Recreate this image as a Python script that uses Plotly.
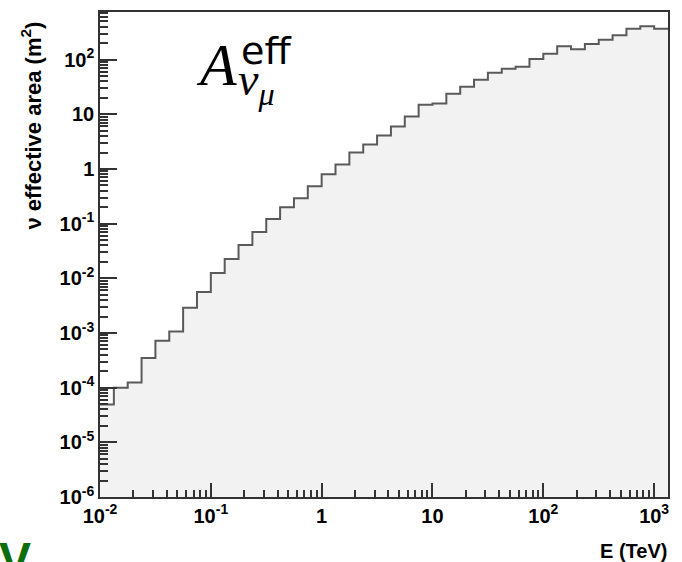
import numpy as np
import plotly.graph_objects as go

# Binning: 8 log-spaced bins per decade, 10^-2 .. 10^3.125 TeV
log_lo, log_hi, n_bins = -2.0, 3.125, 41
edges = np.logspace(log_lo, log_hi, n_bins + 1)

# Muon-neutrino effective area per bin (m^2)
area = [
    4.9e-5, 1.0e-4, 1.24e-4, 3.5e-4, 7.2e-4, 1.06e-3, 2.9e-3, 5.6e-3,
    0.0125, 0.0225, 0.0406, 0.070, 0.121, 0.20, 0.291, 0.482,
    0.80, 1.21, 2.0, 2.8, 4.1, 5.97, 9.1, 15.0,
    15.7, 23.8, 32.0, 42.9, 57.5, 68.0, 74.0, 103.0,
    128.0, 175.0, 154.0, 194.0, 232.0, 279.0, 368.0, 407.0,
    368.0,
]

x_tickvals = [1e-2, 1e-1, 1, 10, 1e2, 1e3]
x_ticktext = ["10<sup>-2</sup>", "10<sup>-1</sup>", "1", "10", "10<sup>2</sup>", "10<sup>3</sup>"]
y_tickvals = [1e-6, 1e-5, 1e-4, 1e-3, 1e-2, 1e-1, 1, 10, 1e2]
y_ticktext = ["10<sup>-6</sup>", "10<sup>-5</sup>", "10<sup>-4</sup>", "10<sup>-3</sup>",
              "10<sup>-2</sup>", "10<sup>-1</sup>", "1", "10", "10<sup>2</sup>"]

y_floor = 1e-6
y_top_log = 2.871

step_y = list(area) + [area[-1]]

fig = go.Figure()
# baseline for the shaded histogram body
fig.add_trace(go.Scatter(
    x=edges, y=[y_floor] * len(edges), mode="lines",
    line=dict(width=0, color="rgba(0,0,0,0)"), hoverinfo="skip", showlegend=False,
))
fig.add_trace(go.Scatter(
    x=edges, y=step_y, mode="lines", line_shape="hv",
    line=dict(color="#5a5a5a", width=2),
    fill="tonexty", fillcolor="#f2f2f2", showlegend=False,
))


def minor_vals(lo, hi):
    out = []
    for d in range(lo, hi + 1):
        for k in range(2, 10):
            out.append(k * 10.0 ** d)
    return out


sans = "Liberation Sans, Arial, sans-serif"
serif = "Liberation Serif, Times New Roman, serif"
tick_font = dict(family=sans, size=20, color="black", weight="bold")

fig.update_xaxes(
    type="log", range=[log_lo, log_hi],
    tickmode="array", tickvals=x_tickvals, ticktext=x_ticktext,
    ticks="inside", ticklen=14, tickwidth=1.5, tickcolor="#333333",
    minor=dict(tickmode="array", tickvals=minor_vals(-2, 3), ticks="inside",
               ticklen=7, tickwidth=1.5, tickcolor="#333333"),
    showline=True, linecolor="#333333", linewidth=1.5, mirror=True,
    showgrid=False, zeroline=False, tickfont=tick_font,
)
fig.update_yaxes(
    type="log", range=[-6, y_top_log],
    tickmode="array", tickvals=y_tickvals, ticktext=y_ticktext,
    ticks="inside", ticklen=17, tickwidth=1.5, tickcolor="#333333",
    minor=dict(tickmode="array", tickvals=minor_vals(-6, 2), ticks="inside",
               ticklen=8, tickwidth=1.5, tickcolor="#333333"),
    showline=True, linecolor="#333333", linewidth=1.5, mirror=True,
    showgrid=False, zeroline=False, tickfont=tick_font,
)

W, H = 682, 562
L, R, T, B = 100, 14, 10, 65
pw, ph = W - L - R, H - T - B


def px(xp):
    return (xp - L) / pw


def py(yp):
    return (H - B - yp) / ph


annotations = [
    dict(text="ν effective area (m<sup>2</sup>)", textangle=-90,
         x=px(31), y=py(124), xanchor="center", yanchor="middle",
         font=dict(family=sans, size=22, color="black", weight="bold")),
    dict(text="E (TeV)", x=px(669), y=py(551), xanchor="right", yanchor="middle",
         font=dict(family=sans, size=20, color="black", weight="bold")),
    dict(text="<i>A</i>", x=px(194), y=py(63), xanchor="left", yanchor="middle",
         font=dict(family=serif, size=60, color="black")),
    dict(text="eff", x=px(239), y=py(49), xanchor="left", yanchor="middle",
         font=dict(family="DejaVu Sans, sans-serif", size=38, color="black")),
    dict(text="<i>ν<sub>μ</sub></i>", x=px(236), y=py(81), xanchor="left", yanchor="middle",
         font=dict(family=serif, size=46, color="black")),
    dict(text="<b>V</b>", x=px(-3), y=py(531), xanchor="left", yanchor="top",
         font=dict(family=sans, size=48, color="#0b6e0b")),
]
for a in annotations:
    a.update(xref="paper", yref="paper", showarrow=False)

fig.update_layout(
    width=W, height=H,
    margin=dict(l=L, r=R, t=T, b=B, pad=0),
    paper_bgcolor="white", plot_bgcolor="white",
    annotations=annotations,
    showlegend=False,
)

fig.write_html("out.html")
